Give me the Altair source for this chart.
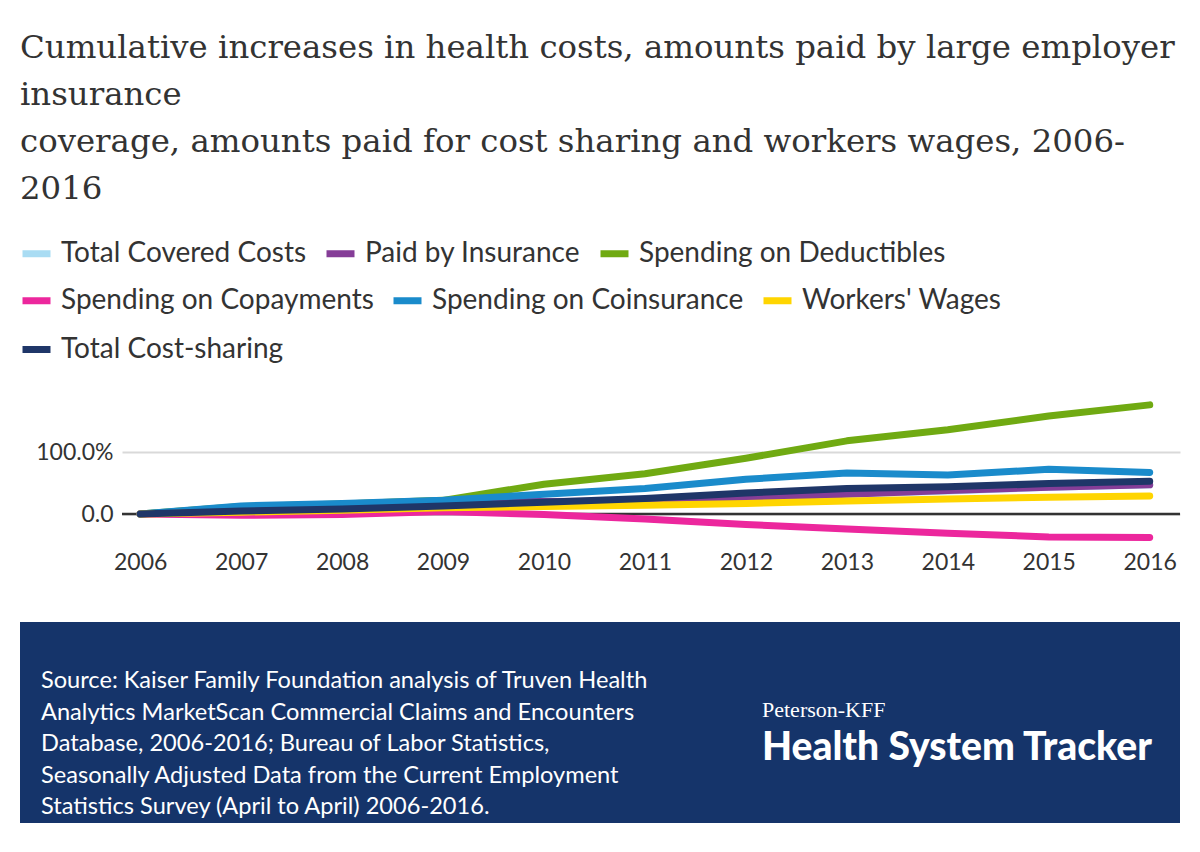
import altair as alt
import pandas as pd

years = list(range(2006, 2017))
series_names = [
    "Total Covered Costs",
    "Paid by Insurance",
    "Spending on Deductibles",
    "Spending on Copayments",
    "Spending on Coinsurance",
    "Workers' Wages",
    "Total Cost-sharing",
]
total_covered = [0, 8, 12, 19, 19, 21, 25, 32, 37, 43, 47]
paid_by_insurance = [0, 8, 13, 20, 20, 21, 25, 32, 38, 43, 47]
deductibles = [0, 12, 16, 22, 48, 65, 90, 118, 136, 158, 176]
copayments = [0, -2, -1, 4, -1, -8, -17, -24, -31, -37, -38]
coinsurance = [0, 13, 17, 22, 32, 41, 56, 66, 63, 72, 67]
wages = [0, 3, 6, 10, 12, 14, 17, 21, 24, 27, 29]
total_cost_sharing = [0, 5, 8, 13, 19, 25, 34, 41, 44, 49, 53]
series_values = [total_covered, paid_by_insurance, deductibles, copayments,
                 coinsurance, wages, total_cost_sharing]
colors = ["#a9dcf3", "#853d97", "#70aa12", "#ec279d", "#1a8bcb", "#ffd500", "#1f3668"]

# legend rows as they flow in the original
legend_rows = [[0, 1, 2], [3, 4, 5], [6]]
legend_row_y = [-154, -107, -58]

title_lines = [
    "Cumulative increases in health costs, amounts paid by large employer",
    "insurance",
    "\u00a0coverage, amounts paid for cost sharing and workers wages, 2006-",
    "2016",
]
source_lines = [
    "Source: Kaiser Family Foundation analysis of Truven Health",
    "Analytics MarketScan Commercial Claims and Encounters",
    "Database, 2006-2016; Bureau of Labor Statistics,",
    "Seasonally Adjusted Data from the Current Employment",
    "Statistics Survey (April to April) 2006-2016.",
]

rows = []
for name, vals in zip(series_names, series_values):
    for yr, v in zip(years, vals):
        rows.append({"Year": yr, "Series": name, "Value": v})
df = pd.DataFrame(rows)

x_enc = alt.X(
    "Year:Q",
    scale=alt.Scale(domain=[2005.82, 2016.3], nice=False, zero=False),
    axis=alt.Axis(values=years, format="d", title=None, grid=False, domain=False,
                  ticks=False, labelFont="Lato", labelFontSize=23, labelColor="#333333",
                  labelPadding=6),
)
y_axis = alt.Axis(values=[0, 100], title=None, domain=False, ticks=False,
                  gridColor="#d9d9d9", gridWidth=2,
                  labelExpr="datum.value == 0 ? '0.0' : format(datum.value, '.1f') + '%'",
                  labelFont="Lato", labelFontSize=23, labelColor="#333333", labelPadding=9)
y_scale = alt.Scale(domain=[-50, 200], nice=False)
y_enc = alt.Y("Value:Q", scale=y_scale, axis=y_axis)

zero_rule = alt.Chart(pd.DataFrame({"Value": [0]})).mark_rule(
    color="#333333", strokeWidth=2.5
).encode(y=alt.Y("Value:Q", scale=y_scale, axis=y_axis))

line_layers = []
for idxs, ly in zip(legend_rows, legend_row_y):
    names = [series_names[i] for i in idxs]
    cols = [colors[i] for i in idxs]
    layer = alt.Chart(df).transform_filter(
        alt.FieldOneOfPredicate(field="Series", oneOf=names)
    ).mark_line(strokeWidth=7, strokeCap="round", strokeJoin="round").encode(
        x=x_enc,
        y=y_enc,
        color=alt.Color(
            "Series:N",
            scale=alt.Scale(domain=names, range=cols),
            sort=names,
            legend=alt.Legend(
                title=None, orient="none", legendX=-103, legendY=ly,
                direction="horizontal", columns=len(names),
                symbolType="stroke", symbolSize=784, symbolStrokeWidth=7,
                labelFont="Lato", labelFontSize=28, labelColor="#333333", labelOffset=7,
                columnPadding=5, labelLimit=500,
            ),
        ),
    )
    line_layers.append(layer)

one = pd.DataFrame({"a": [0]})
footer = alt.Chart(one).mark_rect(color="#15346a").encode(
    x=alt.value(-102), x2=alt.value(1058), y=alt.value(232), y2=alt.value(433)
)
source = alt.Chart(one).mark_text(
    text=source_lines, align="left", baseline="top", font="Lato", fontSize=23.6,
    color="white", lineHeight=31.5,
).encode(x=alt.value(-81), y=alt.value(279))
logo1 = alt.Chart(one).mark_text(
    text="Peterson-KFF", align="left", baseline="middle", font="Liberation Serif",
    fontSize=22, color="white",
).encode(x=alt.value(640), y=alt.value(320))
logo2 = alt.Chart(one).mark_text(
    text="Health System Tracker", align="left", baseline="middle", font="Lato",
    fontSize=39, fontWeight=900, color="white",
).encode(x=alt.value(640), y=alt.value(358))

chart = alt.layer(zero_rule, *line_layers, footer, source, logo1, logo2).resolve_scale(
    color="independent"
).properties(
    width=1058,
    height=155,
    background="white",
    autosize=alt.AutoSizeParams(type="none"),
    padding={"left": 122, "top": 390, "right": 20, "bottom": 307},
    title=alt.TitleParams(
        text=title_lines, anchor="start", frame="group", font="DejaVu Serif",
        fontSize=32.4, fontWeight="normal", color="#333333", lineHeight=47, dx=-102, dy=-27,
    ),
).configure_view(stroke="transparent", strokeWidth=0)

chart.save("out.html", embed_options={"renderer": "svg", "actions": False})
